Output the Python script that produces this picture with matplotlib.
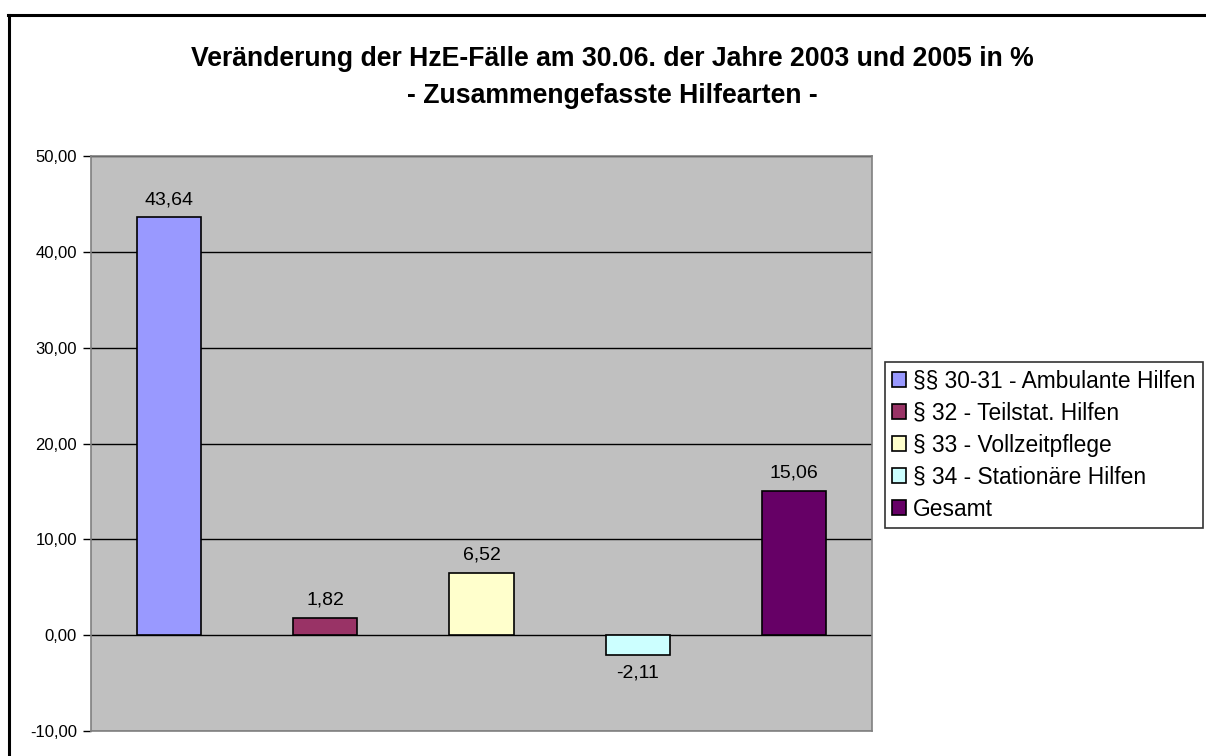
import matplotlib.pyplot as plt
from matplotlib.lines import Line2D

plt.rcParams['font.family'] = ['Liberation Sans', 'DejaVu Sans']

categories = ["§§ 30-31 - Ambulante Hilfen", "§ 32 - Teilstat. Hilfen",
              "§ 33 - Vollzeitpflege", "§ 34 - Stationäre Hilfen", "Gesamt"]
values = [43.64, 1.82, 6.52, -2.11, 15.06]
colors = ["#9999FF", "#993366", "#FFFFCC", "#CCFFFF", "#660066"]
yticks = [-10, 0, 10, 20, 30, 40, 50]

W, H = 1206, 756
fig = plt.figure(figsize=(W / 100, H / 100), dpi=100)
fig.patch.set_facecolor('white')
# outer frame: only left and top edges are visible in the reference
fig.add_artist(Line2D([8.7 / W, 8.7 / W], [0, 1 - 14.6 / H], transform=fig.transFigure,
                      color='black', linewidth=2.2))
fig.add_artist(Line2D([7.6 / W, 1], [1 - 14.6 / H, 1 - 14.6 / H], transform=fig.transFigure,
                      color='black', linewidth=2.2))

top_px, bot_px = 156.3, 730.8
ax = fig.add_axes([91 / W, 1 - bot_px / H, (872 - 91) / W, (bot_px - top_px) / H])
ax.set_facecolor('#C0C0C0')
x = list(range(len(values)))
bars = ax.bar(x, values, width=0.41, color=colors, edgecolor='black', linewidth=1.2, zorder=3)
ax.set_xlim(-0.5, len(values) - 0.5)
ax.set_ylim(-10, 50)
ax.set_yticks(yticks)
ax.set_yticklabels([f"{v:.2f}".replace('.', ',') for v in yticks], fontsize=12)
ax.yaxis.grid(True, color='black', linewidth=1, zorder=1)
ax.set_xticks([])
ax.tick_params(axis='y', length=6, width=1, pad=4)
for s in ax.spines.values():
    s.set_color('#808080')
    s.set_linewidth(1.2)

for xi, v in zip(x, values):
    lbl = f"{v:.2f}".replace('.', ',')
    if v >= 0:
        ax.annotate(lbl, (xi, v), xytext=(0, 6.5), textcoords='offset points',
                    ha='center', va='bottom', fontsize=14)
    else:
        ax.annotate(lbl, (xi, v), xytext=(0, -7), textcoords='offset points',
                    ha='center', va='top', fontsize=14)

fig.text(612 / W, 1 - 59 / H, "Veränderung der HzE-Fälle am 30.06. der Jahre 2003 und 2005 in %",
         ha='center', va='center', fontsize=19.2, fontweight='bold')
fig.text(612 / W, 1 - 96 / H, "- Zusammengefasste Hilfearten -",
         ha='center', va='center', fontsize=19.2, fontweight='bold')

leg = fig.legend(bars, categories, loc='upper left', bbox_to_anchor=(885 / W, 1 - 362 / H),
                 fontsize=16.4, frameon=True, fancybox=False, edgecolor='black',
                 handlelength=0.62, handleheight=0.62, handletextpad=0.3,
                 borderpad=0.32, labelspacing=0.40, borderaxespad=0)
leg.get_frame().set_linewidth(1.2)

fig.savefig('out.png', dpi=100)
